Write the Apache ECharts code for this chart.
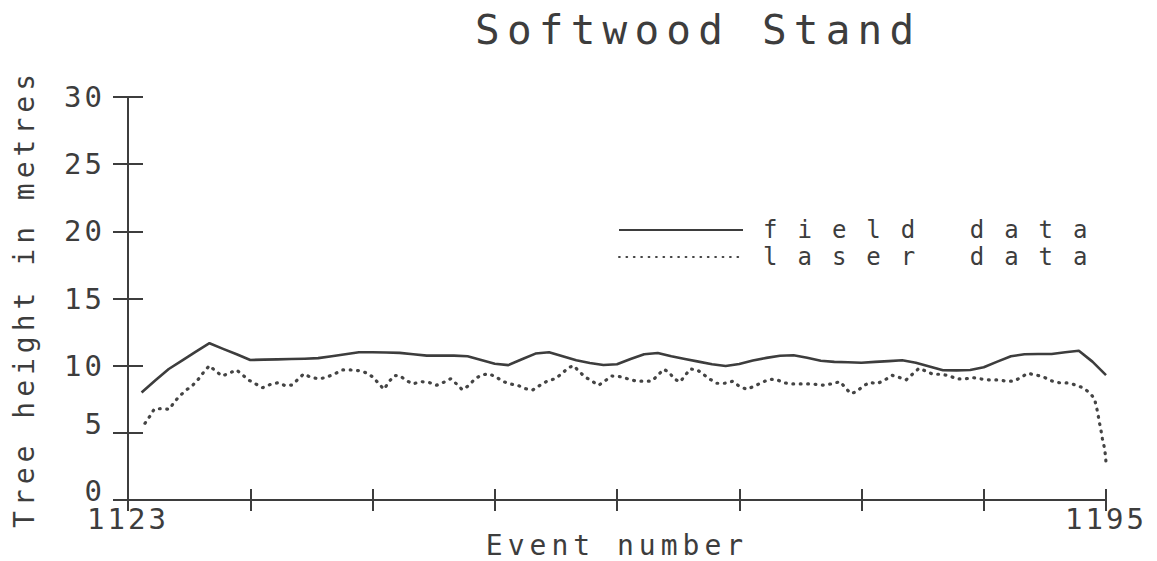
<!DOCTYPE html>
<html>
<head>
<meta charset="utf-8">
<title>Softwood Stand</title>
<script src="https://cdn.jsdelivr.net/npm/echarts@6/dist/echarts.min.js"></script>
<style>
  html, body { margin: 0; padding: 0; background: #ffffff; }
  #chart { width: 1157px; height: 561px; }
  /* Wide plotter-style lettering; each text role has its own font size */
  #chart text[style*="41px"] { letter-spacing: 7.2px; }
  #chart text[style*="24px"] { letter-spacing: 20px; }
  #chart text[style*="29px"] { letter-spacing: 3px; }
  #chart text[style*="28px"] { letter-spacing: 5px; }
</style>
</head>
<body>
<div id="chart"></div>
<script>
// Event range shown on the horizontal axis
const FIRST_EVENT = 1123;
const LAST_EVENT = 1195;
const EVENT_STEP = 9;
const HEIGHT_TICKS = [0, 5, 10, 15, 20, 25, 30];

// Field-measured tree height per event (m), events 1124..1195
const fieldEvents = [];
for (let e = 1124; e <= LAST_EVENT; e++) fieldEvents.push(e);
const fieldHeights = [
  8.0, 8.9, 9.75, 10.4, 11.05, 11.67, 11.25, 10.85, 10.42, 10.45,
  10.47, 10.5, 10.52, 10.56, 10.7, 10.85, 11.0, 11.0, 10.98, 10.95,
  10.85, 10.75, 10.75, 10.75, 10.7, 10.42, 10.14, 10.04, 10.48, 10.9,
  11.0, 10.7, 10.4, 10.2, 10.05, 10.1, 10.5, 10.85, 10.94, 10.7,
  10.49, 10.3, 10.1, 9.98, 10.13, 10.38, 10.58, 10.74, 10.77, 10.59,
  10.37, 10.28, 10.25, 10.22, 10.28, 10.34, 10.4, 10.22, 9.94, 9.66,
  9.65, 9.68, 9.88, 10.3, 10.7, 10.85, 10.87, 10.87, 11.0, 11.11,
  10.3, 9.3
];

// Laser-derived tree height (m) traced along the event axis
const laserEvents = [
  1124.25, 1124.62, 1124.94, 1125.48, 1126.04, 1126.41, 1126.80, 1127.27, 1127.76, 1128.18,
  1128.57, 1128.99, 1129.45, 1129.92, 1130.44, 1130.98, 1131.44, 1131.86, 1132.37, 1132.91,
  1133.50, 1134.04, 1134.58, 1135.07, 1135.54, 1135.93, 1136.47, 1137.09, 1137.67, 1138.24,
  1138.78, 1139.37, 1139.98, 1140.57, 1141.06, 1141.43, 1141.85, 1142.20, 1142.60, 1143.00,
  1143.47, 1143.96, 1144.57, 1145.13, 1145.72, 1146.24, 1146.75, 1147.22, 1147.61, 1148.00,
  1148.45, 1148.94, 1149.53, 1150.07, 1150.56, 1151.12, 1151.69, 1152.25, 1152.79, 1153.33,
  1153.87, 1154.46, 1154.97, 1155.42, 1155.81, 1156.18, 1156.62, 1157.14, 1157.65, 1158.17,
  1158.63, 1159.22, 1159.76, 1160.37, 1160.99, 1161.58, 1162.02, 1162.44, 1162.83, 1163.22,
  1163.64, 1164.03, 1164.37, 1164.89, 1165.35, 1165.85, 1166.34, 1166.93, 1167.52, 1168.00,
  1168.55, 1169.14, 1169.70, 1170.21, 1170.76, 1171.27, 1171.83, 1172.42, 1173.04, 1173.65,
  1174.26, 1174.85, 1175.42, 1175.81, 1176.20, 1176.64, 1177.09, 1177.60, 1178.15, 1178.73,
  1179.25, 1179.76, 1180.28, 1180.77, 1181.23, 1181.73, 1182.26, 1182.83, 1183.44, 1184.01,
  1184.60, 1185.19, 1185.80, 1186.39, 1186.98, 1187.59, 1188.20, 1188.74, 1189.24, 1189.83,
  1190.41, 1190.95, 1191.54, 1192.18, 1192.77, 1193.33, 1193.80, 1194.14, 1194.29, 1194.41,
  1194.51, 1194.63, 1194.73, 1194.86, 1194.95, 1195.00
];
const laserHeights = [
  5.71, 6.25, 6.78, 6.80, 6.75, 7.30, 7.74, 8.17, 8.54, 8.99,
  9.51, 10.00, 9.60, 9.23, 9.43, 9.68, 9.31, 8.94, 8.66, 8.36,
  8.61, 8.73, 8.51, 8.56, 9.01, 9.38, 9.13, 9.01, 9.16, 9.40,
  9.68, 9.68, 9.63, 9.46, 9.13, 8.69, 8.24, 8.79, 9.26, 9.26,
  8.91, 8.64, 8.81, 8.76, 8.54, 8.76, 9.03, 8.61, 8.21, 8.46,
  8.91, 9.28, 9.40, 9.18, 8.84, 8.64, 8.54, 8.29, 8.19, 8.54,
  8.86, 9.03, 9.43, 9.85, 10.00, 9.60, 9.18, 8.86, 8.54, 8.91,
  9.23, 9.18, 9.03, 8.86, 8.84, 8.86, 9.31, 9.73, 9.51, 9.01,
  8.79, 9.28, 9.75, 9.70, 9.36, 8.99, 8.69, 8.69, 8.84, 8.46,
  8.24, 8.49, 8.76, 8.99, 8.96, 8.73, 8.64, 8.64, 8.64, 8.61,
  8.54, 8.66, 8.81, 8.36, 7.92, 8.06, 8.46, 8.76, 8.66, 8.94,
  9.28, 9.13, 8.94, 9.38, 9.80, 9.60, 9.36, 9.36, 9.26, 9.01,
  9.01, 9.11, 9.01, 8.94, 8.94, 8.86, 8.84, 9.13, 9.43, 9.31,
  9.16, 8.88, 8.73, 8.71, 8.56, 8.34, 7.97, 7.57, 6.98, 6.38,
  5.79, 5.19, 4.59, 4.00, 3.40, 2.81
];

const INK = '#3d3d3d';
const FONT = '"DejaVu Sans Mono", "Liberation Mono", monospace';
const SPAN = LAST_EVENT - FIRST_EVENT;

// positions on the axis are counted from the first event so ticks land every 9 events
const toPos = e => +(e - FIRST_EVENT).toFixed(2);
const fieldSeries = fieldEvents.map((e, k) => [toPos(e), fieldHeights[k]]);
const laserSeries = laserEvents.map((e, k) => [toPos(e), laserHeights[k]]);

const chart = echarts.init(document.getElementById('chart'), null, { renderer: 'svg' });

const axisLine = { show: true, lineStyle: { color: INK, width: 2 } };
const tickFont = { fontFamily: FONT, fontSize: 29, color: INK };

chart.setOption({
  animation: false,
  backgroundColor: '#ffffff',
  title: {
    text: 'Softwood Stand',
    left: 470,
    top: 4,
    textStyle: { fontFamily: FONT, fontSize: 41, fontWeight: 'normal', color: INK }
  },
  legend: {
    orient: 'vertical',
    left: 618,
    top: 218,
    padding: 0,
    itemWidth: 124,
    itemHeight: 10,
    itemGap: 3,
    // legend entries show only the line sample, no marker
    itemStyle: { opacity: 0 },
    data: ['field data', 'laser data'],
    textStyle: { fontFamily: FONT, fontSize: 24, color: INK, padding: [0, 0, 0, 15] }
  },
  grid: { left: 128, right: 51, top: 97, bottom: 61, containLabel: false, outerBoundsMode: 'none' },
  xAxis: [
    {
      type: 'value',
      min: 0,
      max: SPAN,
      interval: EVENT_STEP,
      name: 'Event number',
      nameLocation: 'middle',
      nameGap: 31,
      nameMoveOverlap: false,
      nameTextStyle: { fontFamily: FONT, fontSize: 28, color: INK },
      axisLine: axisLine,
      axisTick: { show: true, inside: false, length: 11, lineStyle: { color: INK, width: 2 } },
      axisLabel: Object.assign({
        show: true,
        margin: 4,
        showMinLabel: true,
        showMaxLabel: true,
        formatter: v => (v === 0 || v === SPAN) ? String(FIRST_EVENT + v) : ''
      }, tickFont),
      splitLine: { show: false }
    },
    {
      type: 'value',
      position: 'bottom',
      min: 0,
      max: SPAN,
      interval: EVENT_STEP,
      axisLine: { show: false },
      axisTick: { show: true, inside: true, length: 11, lineStyle: { color: INK, width: 2 } },
      axisLabel: { show: false },
      splitLine: { show: false }
    }
  ],
  yAxis: [
    {
      type: 'value',
      min: HEIGHT_TICKS[0],
      max: HEIGHT_TICKS[HEIGHT_TICKS.length - 1],
      interval: HEIGHT_TICKS[1] - HEIGHT_TICKS[0],
      name: 'Tree height in metres',
      nameLocation: 'middle',
      nameRotate: 90,
      nameGap: 90,
      nameTextStyle: { fontFamily: FONT, fontSize: 28, color: INK },
      axisLine: axisLine,
      axisTick: { show: true, inside: false, length: 15, lineStyle: { color: INK, width: 2 } },
      axisLabel: Object.assign({
        margin: 23,
        // single-digit values sit on their tick rather than centred on it
        formatter: v => v < 10 ? '{low|' + v + '}' : String(v),
        rich: { low: Object.assign({ padding: [0, 0, 18, 0] }, tickFont) }
      }, tickFont),
      splitLine: { show: false }
    },
    {
      type: 'value',
      position: 'left',
      min: HEIGHT_TICKS[0],
      max: HEIGHT_TICKS[HEIGHT_TICKS.length - 1],
      interval: HEIGHT_TICKS[1] - HEIGHT_TICKS[0],
      axisLine: { show: false },
      axisTick: { show: true, inside: true, length: 15, lineStyle: { color: INK, width: 2 } },
      axisLabel: { show: false },
      splitLine: { show: false }
    }
  ],
  series: [
    {
      name: 'field data',
      type: 'line',
      xAxisIndex: 0,
      yAxisIndex: 0,
      symbol: 'none',
      data: fieldSeries,
      lineStyle: { color: INK, width: 2.6, type: 'solid', join: 'round' },
      itemStyle: { color: INK }
    },
    {
      name: 'laser data',
      type: 'line',
      xAxisIndex: 0,
      yAxisIndex: 0,
      symbol: 'none',
      data: laserSeries,
      lineStyle: { color: '#444444', width: 3.2, type: [0.8, 6.6], cap: 'round' },
      itemStyle: { color: '#444444' }
    }
  ]
});
</script>
</body>
</html>
